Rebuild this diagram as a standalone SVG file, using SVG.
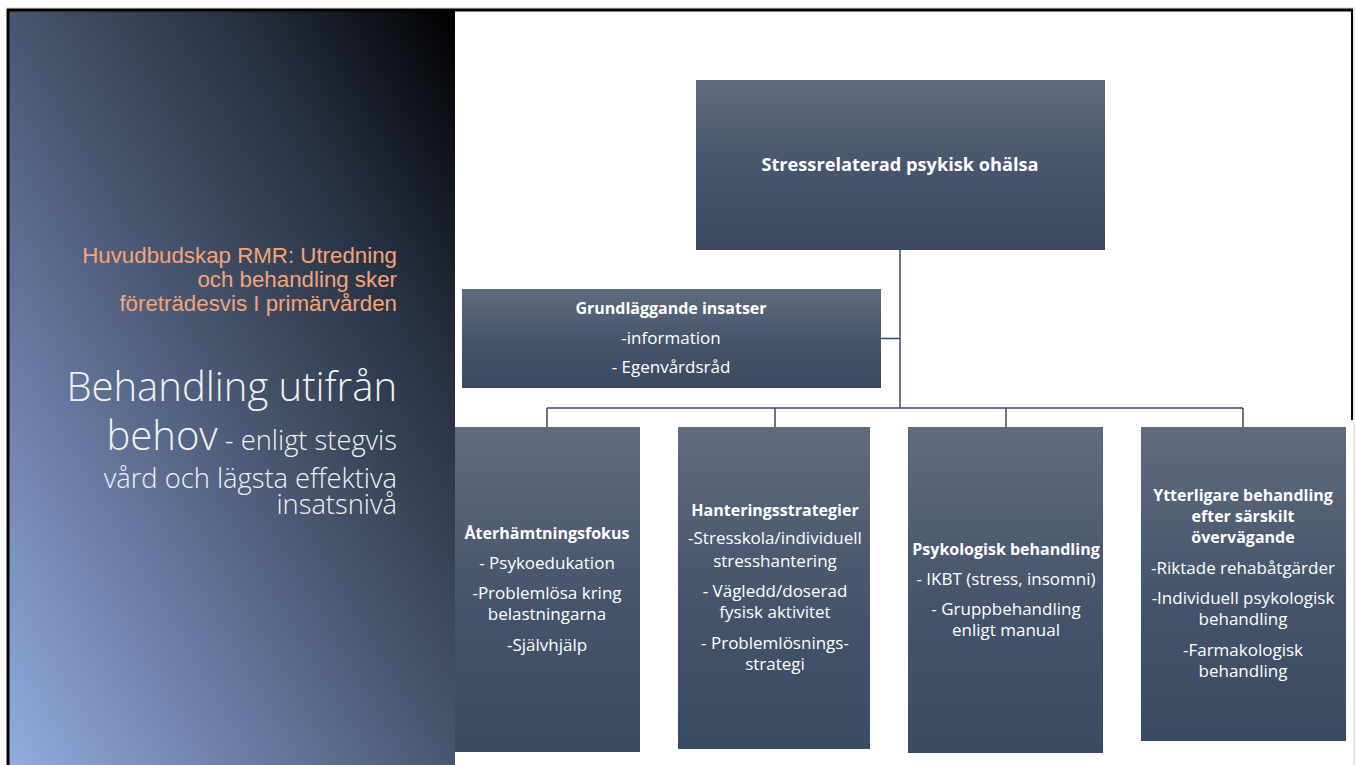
<svg xmlns="http://www.w3.org/2000/svg" width="1355" height="765" viewBox="0 0 1355 765">
<defs>
<linearGradient id="panel" x1="0" y1="1" x2="1" y2="0">
<stop offset="0" stop-color="#92acdd"/>
<stop offset="0.25" stop-color="#6d80aa"/>
<stop offset="0.5" stop-color="#485670"/>
<stop offset="0.75" stop-color="#283142"/>
<stop offset="1" stop-color="#000000"/>
</linearGradient>
<linearGradient id="box" x1="0" y1="0" x2="0" y2="1">
<stop offset="0" stop-color="#5f6b7e"/>
<stop offset="0.55" stop-color="#45546c"/>
<stop offset="1" stop-color="#3b4a63"/>
</linearGradient>
<style>
.box{fill:url(#box);}
.t{font-family:"Open Sans","DejaVu Sans",sans-serif;fill:#ffffff;text-anchor:middle;font-size:17px;}
.b{font-weight:bold;font-size:16px;}
.root{font-size:18.2px;}
.conn{stroke:#3b4a63;stroke-width:1.5;fill:none;}
.orange{font-family:"Liberation Sans",Arial,sans-serif;fill:#f2a57a;font-size:22.3px;text-anchor:end;}
.title{font-family:"Open Sans","DejaVu Sans",sans-serif;fill:#f2f2f2;text-anchor:end;font-weight:300;}
.big{font-size:40px;}
.small{font-size:27.3px;}
</style>
</defs>
<rect x="0" y="0" width="1355" height="765" fill="#ffffff"/>
<rect x="9" y="11" width="446" height="754" fill="url(#panel)"/>
<g id="frame">
<line x1="6" y1="8" x2="1355" y2="8" stroke="#d0d0d0" stroke-width="1"/>
<line x1="7" y1="10" x2="1353" y2="10" stroke="#000" stroke-width="3"/>
<line x1="8" y1="9" x2="8" y2="765" stroke="#000" stroke-width="3"/>
<line x1="1352" y1="9" x2="1352" y2="420" stroke="#000" stroke-width="2"/>
<line x1="1354" y1="9" x2="1354" y2="765" stroke="#cfcfcf" stroke-width="1"/>
</g>
<g id="left-text">
<text class="orange" x="397" y="263">Huvudbudskap RMR: Utredning</text>
<text class="orange" x="397" y="287">och behandling sker</text>
<text class="orange" x="397" y="311">företrädesvis I primärvården</text>
<text class="title big" x="397" y="401">Behandling utifrån</text>
<text class="title" x="397" y="450"><tspan class="big">behov</tspan><tspan class="small"> - enligt stegvis</tspan></text>
<text class="title small" x="397" y="488">vård och lägsta effektiva</text>
<text class="title small" x="397" y="514">insatsnivå</text>
</g>
<g id="connectors">
<line class="conn" x1="900" y1="250" x2="900" y2="408"/>
<line class="conn" x1="881" y1="338.5" x2="900" y2="338.5"/>
<line class="conn" x1="547" y1="408" x2="1243" y2="408"/>
<line class="conn" x1="547" y1="408" x2="547" y2="427"/>
<line class="conn" x1="775" y1="408" x2="775" y2="427"/>
<line class="conn" x1="1006" y1="408" x2="1006" y2="427"/>
<line class="conn" x1="1243" y1="408" x2="1243" y2="427"/>
</g>
<g id="root">
<rect class="box" x="696" y="80" width="409" height="170"/>
<text class="t b root" x="900" y="171">Stressrelaterad psykisk ohälsa</text>
</g>
<g id="grundlaggande">
<rect class="box" x="462" y="289" width="419" height="99"/>
<text class="t b" x="671" y="314">Grundläggande insatser</text>
<text class="t" x="671" y="344">-information</text>
<text class="t" x="671" y="373">- Egenvårdsråd</text>
</g>
<g id="aterhamtning">
<rect class="box" x="455" y="427" width="185" height="325"/>
<text class="t b" x="547" y="539">Återhämtningsfokus</text>
<text class="t" x="547" y="569">- Psykoedukation</text>
<text class="t" x="547" y="599">-Problemlösa kring</text>
<text class="t" x="547" y="620">belastningarna</text>
<text class="t" x="547" y="651">-Självhjälp</text>
</g>
<g id="hantering">
<rect class="box" x="678" y="427" width="192" height="322"/>
<text class="t b" x="775" y="516">Hanteringsstrategier</text>
<text class="t" x="775" y="544">-Stresskola/individuell</text>
<text class="t" x="775" y="567">stresshantering</text>
<text class="t" x="775" y="597">- Vägledd/doserad</text>
<text class="t" x="775" y="618">fysisk aktivitet</text>
<text class="t" x="775" y="649">- Problemlösnings-</text>
<text class="t" x="775" y="670">strategi</text>
</g>
<g id="psykologisk">
<rect class="box" x="908" y="427" width="195" height="326"/>
<text class="t b" x="1006" y="555">Psykologisk behandling</text>
<text class="t" x="1006" y="585">- IKBT (stress, insomni)</text>
<text class="t" x="1006" y="615">- Gruppbehandling</text>
<text class="t" x="1006" y="636">enligt manual</text>
</g>
<g id="ytterligare">
<rect class="box" x="1141" y="427" width="205" height="314"/>
<text class="t b" x="1243" y="501">Ytterligare behandling</text>
<text class="t b" x="1243" y="522">efter särskilt</text>
<text class="t b" x="1243" y="543">övervägande</text>
<text class="t" x="1243" y="574">-Riktade rehabåtgärder</text>
<text class="t" x="1243" y="604">-Individuell psykologisk</text>
<text class="t" x="1243" y="625">behandling</text>
<text class="t" x="1243" y="656">-Farmakologisk</text>
<text class="t" x="1243" y="677">behandling</text>
</g>
</svg>
